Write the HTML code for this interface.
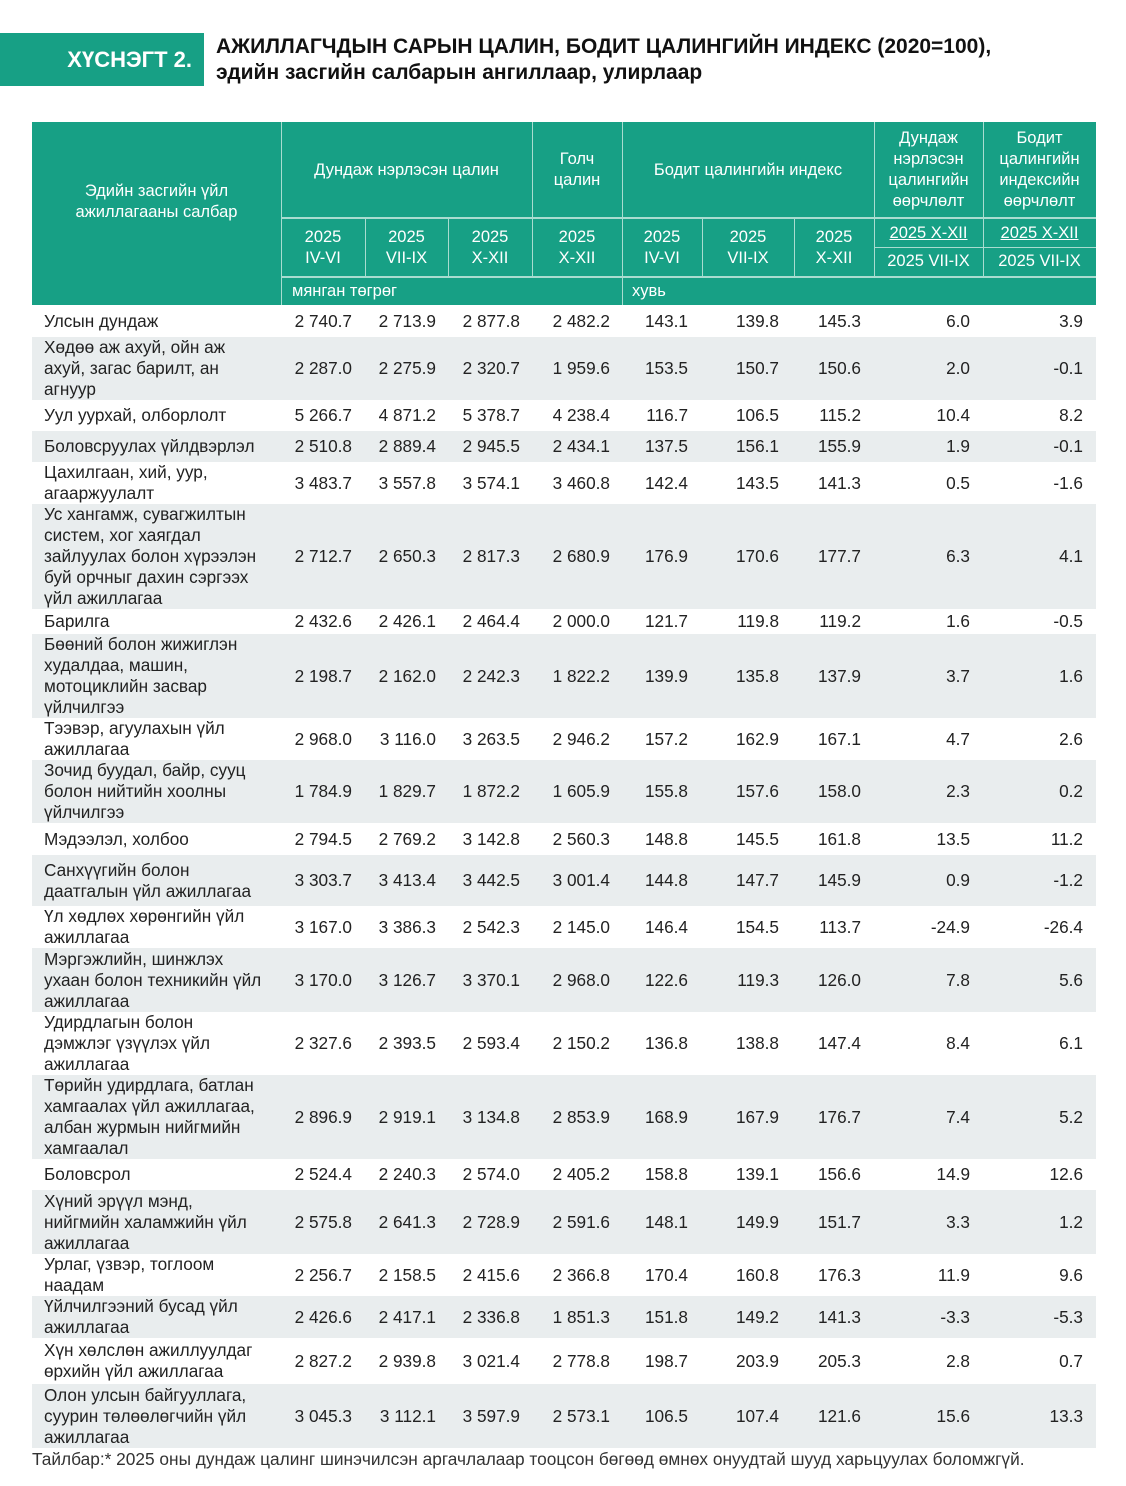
<!DOCTYPE html>
<html><head><meta charset="utf-8"><style>
*{margin:0;padding:0;box-sizing:border-box}
body{width:1126px;height:1486px;background:#fff;position:relative;font-family:"Liberation Sans","DejaVu Sans",sans-serif;color:#222;overflow:hidden}
.ban{position:absolute;left:0;top:33px;width:204px;height:53px;background:#17a085;color:#fff;font-weight:bold;font-size:22px;display:flex;align-items:center;justify-content:flex-end;padding-right:12px}
.t{position:absolute;left:216px;font-weight:bold;font-size:21px;color:#111;white-space:nowrap}
.hd{position:absolute;left:32px;top:122px;width:1064px;height:183px;background:#17a085}
.h{position:absolute;color:#fff;font-size:16.5px;line-height:21px;text-align:center;display:flex;align-items:center;justify-content:center}
.vl{position:absolute;width:1px;background:#a9dcd0}
.hl{position:absolute;height:2px;background:#a9dcd0}
.r{position:absolute;left:32px;width:1064px;font-size:17.2px;line-height:21px}
.g{background:#e9edee}
.r div{position:absolute;top:0;height:100%;display:flex;align-items:center;white-space:nowrap}
.l{left:12px}
.c1{right:744px}.c2{right:660px}.c3{right:576px}.c4{right:486px}.c5{right:408px}.c6{right:317px}.c7{right:235px}.c8{right:126px}.c9{right:13px}
.u{text-decoration:underline}
.foot{position:absolute;left:32px;top:1449px;font-size:17.3px;color:#333;white-space:nowrap}
</style></head><body>
<div class="ban">ХҮСНЭГТ 2.</div>
<div class="t" style="top:35px">АЖИЛЛАГЧДЫН САРЫН ЦАЛИН, БОДИТ ЦАЛИНГИЙН ИНДЕКС (2020=100),</div>
<div class="t" style="top:61px">эдийн засгийн салбарын ангиллаар, улирлаар</div>

<div class="hd"></div>
<div class="h" style="left:32px;top:122px;width:249px;height:160px">Эдийн засгийн үйл<br>ажиллагааны салбар</div>
<div class="h" style="left:281px;top:122px;width:251px;height:96px">Дундаж нэрлэсэн цалин</div>
<div class="h" style="left:532px;top:122px;width:90px;height:96px">Голч<br>цалин</div>
<div class="h" style="left:622px;top:122px;width:252px;height:96px">Бодит цалингийн индекс</div>
<div class="h" style="left:874px;top:122px;width:109px;height:96px">Дундаж<br>нэрлэсэн<br>цалингийн<br>өөрчлөлт</div>
<div class="h" style="left:983px;top:122px;width:113px;height:96px">Бодит<br>цалингийн<br>индексийн<br>өөрчлөлт</div>
<div class="h" style="left:281px;top:218px;width:84px;height:59px">2025<br>IV-VI</div>
<div class="h" style="left:365px;top:218px;width:83px;height:59px">2025<br>VII-IX</div>
<div class="h" style="left:448px;top:218px;width:84px;height:59px">2025<br>X-XII</div>
<div class="h" style="left:532px;top:218px;width:90px;height:59px">2025<br>X-XII</div>
<div class="h" style="left:622px;top:218px;width:80px;height:59px">2025<br>IV-VI</div>
<div class="h" style="left:702px;top:218px;width:92px;height:59px">2025<br>VII-IX</div>
<div class="h" style="left:794px;top:218px;width:80px;height:59px">2025<br>X-XII</div>
<div class="h u" style="left:874px;top:220px;width:109px;height:27px">2025 X-XII</div>
<div class="h" style="left:874px;top:248px;width:109px;height:27px">2025 VII-IX</div>
<div class="h u" style="left:983px;top:220px;width:113px;height:27px">2025 X-XII</div>
<div class="h" style="left:983px;top:248px;width:113px;height:27px">2025 VII-IX</div>
<div class="h" style="left:292px;top:277px;height:28px;justify-content:flex-start">мянган төгрөг</div>
<div class="h" style="left:632px;top:277px;height:28px;justify-content:flex-start">хувь</div>
<div class="vl" style="left:281px;top:122px;height:183px"></div>
<div class="vl" style="left:532px;top:122px;height:155px"></div>
<div class="vl" style="left:622px;top:122px;height:183px"></div>
<div class="vl" style="left:874px;top:122px;height:155px"></div>
<div class="vl" style="left:983px;top:122px;height:155px"></div>
<div class="vl" style="left:365px;top:218px;height:59px"></div>
<div class="vl" style="left:448px;top:218px;height:59px"></div>
<div class="vl" style="left:702px;top:218px;height:59px"></div>
<div class="vl" style="left:794px;top:218px;height:59px"></div>
<div class="hl" style="left:281px;top:217px;width:815px"></div>
<div class="hl" style="left:281px;top:276px;width:815px"></div>
<div class="hl" style="left:874px;top:247px;width:222px;height:1px"></div>

<div class="r" style="top:305px;height:32px"><div class="l">Улсын дундаж</div><div class="c1">2 740.7</div><div class="c2">2 713.9</div><div class="c3">2 877.8</div><div class="c4">2 482.2</div><div class="c5">143.1</div><div class="c6">139.8</div><div class="c7">145.3</div><div class="c8">6.0</div><div class="c9">3.9</div></div>
<div class="r g" style="top:337px;height:63px"><div class="l">Хөдөө аж ахуй, ойн аж<br>ахуй, загас барилт, ан<br>агнуур</div><div class="c1">2 287.0</div><div class="c2">2 275.9</div><div class="c3">2 320.7</div><div class="c4">1 959.6</div><div class="c5">153.5</div><div class="c6">150.7</div><div class="c7">150.6</div><div class="c8">2.0</div><div class="c9">-0.1</div></div>
<div class="r" style="top:400px;height:31px"><div class="l">Уул уурхай, олборлолт</div><div class="c1">5 266.7</div><div class="c2">4 871.2</div><div class="c3">5 378.7</div><div class="c4">4 238.4</div><div class="c5">116.7</div><div class="c6">106.5</div><div class="c7">115.2</div><div class="c8">10.4</div><div class="c9">8.2</div></div>
<div class="r g" style="top:431px;height:31px"><div class="l">Боловсруулах үйлдвэрлэл</div><div class="c1">2 510.8</div><div class="c2">2 889.4</div><div class="c3">2 945.5</div><div class="c4">2 434.1</div><div class="c5">137.5</div><div class="c6">156.1</div><div class="c7">155.9</div><div class="c8">1.9</div><div class="c9">-0.1</div></div>
<div class="r" style="top:462px;height:42px"><div class="l">Цахилгаан, хий, уур,<br>агааржуулалт</div><div class="c1">3 483.7</div><div class="c2">3 557.8</div><div class="c3">3 574.1</div><div class="c4">3 460.8</div><div class="c5">142.4</div><div class="c6">143.5</div><div class="c7">141.3</div><div class="c8">0.5</div><div class="c9">-1.6</div></div>
<div class="r g" style="top:504px;height:105px"><div class="l">Ус хангамж, сувагжилтын<br>систем, хог хаягдал<br>зайлуулах болон хүрээлэн<br>буй орчныг дахин сэргээх<br>үйл ажиллагаа</div><div class="c1">2 712.7</div><div class="c2">2 650.3</div><div class="c3">2 817.3</div><div class="c4">2 680.9</div><div class="c5">176.9</div><div class="c6">170.6</div><div class="c7">177.7</div><div class="c8">6.3</div><div class="c9">4.1</div></div>
<div class="r" style="top:609px;height:25px"><div class="l">Барилга</div><div class="c1">2 432.6</div><div class="c2">2 426.1</div><div class="c3">2 464.4</div><div class="c4">2 000.0</div><div class="c5">121.7</div><div class="c6">119.8</div><div class="c7">119.2</div><div class="c8">1.6</div><div class="c9">-0.5</div></div>
<div class="r g" style="top:634px;height:84px"><div class="l">Бөөний болон жижиглэн<br>худалдаа, машин,<br>мотоциклийн засвар<br>үйлчилгээ</div><div class="c1">2 198.7</div><div class="c2">2 162.0</div><div class="c3">2 242.3</div><div class="c4">1 822.2</div><div class="c5">139.9</div><div class="c6">135.8</div><div class="c7">137.9</div><div class="c8">3.7</div><div class="c9">1.6</div></div>
<div class="r" style="top:718px;height:42px"><div class="l">Тээвэр, агуулахын үйл<br>ажиллагаа</div><div class="c1">2 968.0</div><div class="c2">3 116.0</div><div class="c3">3 263.5</div><div class="c4">2 946.2</div><div class="c5">157.2</div><div class="c6">162.9</div><div class="c7">167.1</div><div class="c8">4.7</div><div class="c9">2.6</div></div>
<div class="r g" style="top:760px;height:63px"><div class="l">Зочид буудал, байр, сууц<br>болон нийтийн хоолны<br>үйлчилгээ</div><div class="c1">1 784.9</div><div class="c2">1 829.7</div><div class="c3">1 872.2</div><div class="c4">1 605.9</div><div class="c5">155.8</div><div class="c6">157.6</div><div class="c7">158.0</div><div class="c8">2.3</div><div class="c9">0.2</div></div>
<div class="r" style="top:823px;height:32px"><div class="l">Мэдээлэл, холбоо</div><div class="c1">2 794.5</div><div class="c2">2 769.2</div><div class="c3">3 142.8</div><div class="c4">2 560.3</div><div class="c5">148.8</div><div class="c6">145.5</div><div class="c7">161.8</div><div class="c8">13.5</div><div class="c9">11.2</div></div>
<div class="r g" style="top:855px;height:51px"><div class="l">Санхүүгийн болон<br>даатгалын үйл ажиллагаа</div><div class="c1">3 303.7</div><div class="c2">3 413.4</div><div class="c3">3 442.5</div><div class="c4">3 001.4</div><div class="c5">144.8</div><div class="c6">147.7</div><div class="c7">145.9</div><div class="c8">0.9</div><div class="c9">-1.2</div></div>
<div class="r" style="top:906px;height:42px"><div class="l">Үл хөдлөх хөрөнгийн үйл<br>ажиллагаа</div><div class="c1">3 167.0</div><div class="c2">3 386.3</div><div class="c3">2 542.3</div><div class="c4">2 145.0</div><div class="c5">146.4</div><div class="c6">154.5</div><div class="c7">113.7</div><div class="c8">-24.9</div><div class="c9">-26.4</div></div>
<div class="r g" style="top:948px;height:64px"><div class="l">Мэргэжлийн, шинжлэх<br>ухаан болон техникийн үйл<br>ажиллагаа</div><div class="c1">3 170.0</div><div class="c2">3 126.7</div><div class="c3">3 370.1</div><div class="c4">2 968.0</div><div class="c5">122.6</div><div class="c6">119.3</div><div class="c7">126.0</div><div class="c8">7.8</div><div class="c9">5.6</div></div>
<div class="r" style="top:1012px;height:63px"><div class="l">Удирдлагын болон<br>дэмжлэг үзүүлэх үйл<br>ажиллагаа</div><div class="c1">2 327.6</div><div class="c2">2 393.5</div><div class="c3">2 593.4</div><div class="c4">2 150.2</div><div class="c5">136.8</div><div class="c6">138.8</div><div class="c7">147.4</div><div class="c8">8.4</div><div class="c9">6.1</div></div>
<div class="r g" style="top:1075px;height:84px"><div class="l">Төрийн удирдлага, батлан<br>хамгаалах үйл ажиллагаа,<br>албан журмын нийгмийн<br>хамгаалал</div><div class="c1">2 896.9</div><div class="c2">2 919.1</div><div class="c3">3 134.8</div><div class="c4">2 853.9</div><div class="c5">168.9</div><div class="c6">167.9</div><div class="c7">176.7</div><div class="c8">7.4</div><div class="c9">5.2</div></div>
<div class="r" style="top:1159px;height:31px"><div class="l">Боловсрол</div><div class="c1">2 524.4</div><div class="c2">2 240.3</div><div class="c3">2 574.0</div><div class="c4">2 405.2</div><div class="c5">158.8</div><div class="c6">139.1</div><div class="c7">156.6</div><div class="c8">14.9</div><div class="c9">12.6</div></div>
<div class="r g" style="top:1190px;height:64px"><div class="l">Хүний эрүүл мэнд,<br>нийгмийн халамжийн үйл<br>ажиллагаа</div><div class="c1">2 575.8</div><div class="c2">2 641.3</div><div class="c3">2 728.9</div><div class="c4">2 591.6</div><div class="c5">148.1</div><div class="c6">149.9</div><div class="c7">151.7</div><div class="c8">3.3</div><div class="c9">1.2</div></div>
<div class="r" style="top:1254px;height:42px"><div class="l">Урлаг, үзвэр, тоглоом<br>наадам</div><div class="c1">2 256.7</div><div class="c2">2 158.5</div><div class="c3">2 415.6</div><div class="c4">2 366.8</div><div class="c5">170.4</div><div class="c6">160.8</div><div class="c7">176.3</div><div class="c8">11.9</div><div class="c9">9.6</div></div>
<div class="r g" style="top:1296px;height:42px"><div class="l">Үйлчилгээний бусад үйл<br>ажиллагаа</div><div class="c1">2 426.6</div><div class="c2">2 417.1</div><div class="c3">2 336.8</div><div class="c4">1 851.3</div><div class="c5">151.8</div><div class="c6">149.2</div><div class="c7">141.3</div><div class="c8">-3.3</div><div class="c9">-5.3</div></div>
<div class="r" style="top:1338px;height:46px"><div class="l">Хүн хөлслөн ажиллуулдаг<br>өрхийн үйл ажиллагаа</div><div class="c1">2 827.2</div><div class="c2">2 939.8</div><div class="c3">3 021.4</div><div class="c4">2 778.8</div><div class="c5">198.7</div><div class="c6">203.9</div><div class="c7">205.3</div><div class="c8">2.8</div><div class="c9">0.7</div></div>
<div class="r g" style="top:1384px;height:64px"><div class="l">Олон улсын байгууллага,<br>суурин төлөөлөгчийн үйл<br>ажиллагаа</div><div class="c1">3 045.3</div><div class="c2">3 112.1</div><div class="c3">3 597.9</div><div class="c4">2 573.1</div><div class="c5">106.5</div><div class="c6">107.4</div><div class="c7">121.6</div><div class="c8">15.6</div><div class="c9">13.3</div></div>
<div class="foot">Тайлбар:* 2025 оны дундаж цалинг шинэчилсэн аргачлалаар тооцсон бөгөөд өмнөх онуудтай шууд харьцуулах боломжгүй.</div>
</body></html>
